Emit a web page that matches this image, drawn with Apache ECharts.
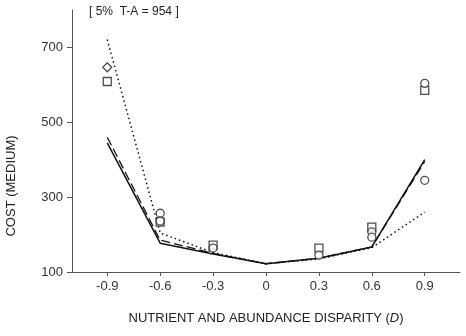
<!DOCTYPE html>
<html><head><meta charset="utf-8">
<script src="https://cdn.jsdelivr.net/npm/echarts@6/dist/echarts.min.js"></script>
<style>html,body{margin:0;padding:0;background:#fff}#c{width:466px;height:336px}</style>
</head><body><div id="c"></div>
<script>
const xTicks = [-0.9, -0.6, -0.3, 0, 0.3, 0.6, 0.9];
const yTicks = [100, 300, 500, 700];
const disparity = [-0.9, -0.6, -0.3, 0, 0.3, 0.6, 0.9];
const solidCost = [445, 177, 148, 122, 137, 167, 400];
const dashedCost = [460, 185, 150, 122, 137, 167, 395];
const dottedCost = [721, 204, 152, 122, 135, 165, 260];
const squareX = [-0.9, -0.6, -0.3, 0.3, 0.6, 0.9];
const squareY = [609, 233, 172, 164, 220, 585];
const diamondX = [-0.9];
const diamondY = [647];
const circleX = [-0.6, -0.6, -0.3, 0.3, 0.6, 0.6, 0.9, 0.9];
const circleY = [257, 236, 164, 145, 207, 193, 604, 345];
const annotation = '[ 5%  T-A = 954 ]';
const xName = 'NUTRIENT AND ABUNDANCE DISPARITY ({i|D})';
const yName = 'COST (MEDIUM)';

const zip = (a, b) => a.map((v, i) => [v, b[i]]);
const font = 'Liberation Sans, Arial, sans-serif';
const chart = echarts.init(document.getElementById('c'));
const lineBase = {type: 'line', symbol: 'none', silent: true, animation: false, z: 2};
const markBase = {type: 'scatter', symbolSize: 8, animation: false, z: 3,
  itemStyle: {color: '#fff', borderColor: '#222', borderWidth: 1.3}};
chart.setOption({
  animation: false,
  grid: {left: 72, right: 6, top: 10, bottom: 64},
  xAxis: {
    type: 'value', min: -1.1, max: 1.1,
    name: xName, nameLocation: 'middle', nameGap: 40,
    nameTextStyle: {fontFamily: font, fontSize: 13, color: '#222',
      rich: {i: {fontFamily: font, fontSize: 13, fontStyle: 'italic', color: '#222'}}},
    axisLine: {onZero: false, lineStyle: {color: '#555', width: 1}},
    axisTick: {show: true, customValues: xTicks, length: 4, lineStyle: {color: '#555'}},
    axisLabel: {customValues: xTicks, fontFamily: font, fontSize: 13, color: '#333', margin: 8},
    splitLine: {show: false}
  },
  yAxis: {
    type: 'value', min: 100, max: 800,
    axisLine: {show: true, onZero: false, lineStyle: {color: '#555', width: 1}},
    axisTick: {show: true, customValues: yTicks, length: 5, lineStyle: {color: '#555'}},
    axisLabel: {customValues: yTicks, fontFamily: font, fontSize: 13, color: '#333', margin: 9},
    splitLine: {show: false}
  },
  graphic: [
    {type: 'text', left: 89, top: 6, style: {text: annotation, font: '12px ' + font, fill: '#222'}},
    {type: 'text', x: 11, y: 186, rotation: Math.PI / 2,
      style: {text: yName, font: '13px ' + font, fill: '#222', align: 'center', verticalAlign: 'middle'}}
  ],
  series: [
    Object.assign({}, lineBase, {data: zip(disparity, solidCost), lineStyle: {color: '#111', width: 1.5, type: 'solid'}}),
    Object.assign({}, lineBase, {data: zip(disparity, dashedCost), lineStyle: {color: '#111', width: 1.3, type: [9, 4]}}),
    Object.assign({}, lineBase, {data: zip(disparity, dottedCost), lineStyle: {color: '#111', width: 1.5, type: [1.5, 3]}}),
    Object.assign({}, markBase, {symbol: 'rect', data: zip(squareX, squareY)}),
    Object.assign({}, markBase, {symbol: 'diamond', symbolSize: 9, data: zip(diamondX, diamondY)}),
    Object.assign({}, markBase, {symbol: 'circle', data: zip(circleX, circleY)})
  ]
});
</script></body></html>
